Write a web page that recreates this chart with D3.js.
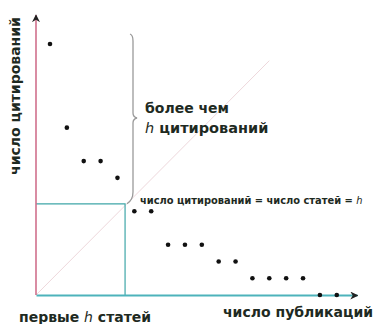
<!DOCTYPE html>
<html><head><meta charset="utf-8">
<script src="https://cdn.jsdelivr.net/npm/d3@7/dist/d3.min.js"></script>
<style>html,body{margin:0;padding:0;background:#fff}svg{display:block}</style>
</head><body><svg id="c" width="381" height="324"></svg>
<script>
const ranks = [1,2,3,4,5,6,7,8,9,10,11,12,13,14,15,16,17,18];
const citations = [15,10,8,8,7,5,5,3,3,3,2,2,1,1,1,1,0,0];
const hCross = 5.45;
const diagEnd = 14;
const labels = {
  y: "число цитирований",
  x: "число публикаций",
  first: ["первые ", "h", " статей"],
  more1: "более чем",
  more2: ["h", " цитирований"],
  eq: ["число цитирований = число статей = ", "h"]
};

const svg = d3.select("#c");
const x = d3.scaleLinear().domain([0.17, 19.2]).range([36, 357]);
const y = d3.scaleLinear().domain([0, 16.73]).range([295, 15]);
const font = "'DejaVu Sans', Verdana, sans-serif";
const ink = "#1e2a22";

const defs = svg.append("defs");
defs.append("marker").attr("id","arr").attr("viewBox","0 0 10 10").attr("refX",9).attr("refY",5)
  .attr("markerWidth",8).attr("markerHeight",8).attr("markerUnits","userSpaceOnUse").attr("orient","auto")
  .append("path").attr("d","M0,0L10,5L0,10L3,5Z").attr("fill","#222");

// diagonal
svg.append("line").attr("x1",x(0.17)).attr("y1",y(0)).attr("x2",x(diagEnd)).attr("y2",y(diagEnd))
  .attr("stroke","#eed8dc").attr("stroke-width",1);

// h box
svg.append("path")
  .attr("d",`M${x(0.17)},${y(hCross)}H${x(hCross)}V${y(0)}`)
  .attr("fill","none").attr("stroke","#3fa6a8").attr("stroke-width",1.2);

// axes
const gx = svg.append("g").attr("transform",`translate(0,${y(0)})`)
  .call(d3.axisBottom(x).tickValues([]).tickSizeOuter(0));
gx.select(".domain").attr("stroke","#4db3bb").attr("stroke-width",2).attr("marker-end","url(#arr)");
const gy = svg.append("g").attr("transform",`translate(${x(0.17)},0)`)
  .call(d3.axisLeft(y).tickValues([]).tickSizeOuter(0));
gy.select(".domain").attr("stroke","#d0708c").attr("stroke-width",1.6)
  .attr("d",`M0,${y(0)}V${y(16.73)}`).attr("marker-end","url(#arr)");

// brace
const bx = 133, bt = 36, bm = 118, bb = 200;
svg.append("path")
  .attr("d",`M${bx-3},${bt-2} Q${bx},${bt-1} ${bx},${bt+5} L${bx},${bm-5} Q${bx},${bm-1} ${bx+4},${bm} Q${bx},${bm+1} ${bx},${bm+5} L${bx},${bb-8} Q${bx},${bb} ${bx-6},${y(hCross)}`)
  .attr("fill","none").attr("stroke","#9a9a9a").attr("stroke-width",1.3);

// points
svg.append("g").selectAll("circle").data(ranks).join("circle")
  .attr("cx",(d)=>x(d)).attr("cy",(d,i)=>y(citations[i])).attr("r",2.3).attr("fill","#111");

// texts
svg.append("text").attr("transform","translate(20,96) rotate(-90)").attr("text-anchor","middle")
  .attr("font-family",font).attr("font-weight","bold").attr("font-size",14).attr("fill",ink).text(labels.y);

const t1 = svg.append("text").attr("x",19).attr("y",322).attr("font-family",font).attr("font-weight","bold")
  .attr("font-size",14).attr("fill",ink);
t1.append("tspan").text(labels.first[0]);
t1.append("tspan").attr("font-style","italic").attr("font-weight","normal").text(labels.first[1]);
t1.append("tspan").text(labels.first[2]);

svg.append("text").attr("x",223).attr("y",317).attr("font-family",font).attr("font-weight","bold")
  .attr("font-size",14).attr("fill",ink).text(labels.x);

svg.append("text").attr("x",145).attr("y",113).attr("font-family",font).attr("font-weight","bold")
  .attr("font-size",14).attr("fill",ink).text(labels.more1);
const t2 = svg.append("text").attr("x",145).attr("y",133).attr("font-family",font).attr("font-weight","bold")
  .attr("font-size",14.5).attr("fill",ink);
t2.append("tspan").attr("font-style","italic").attr("font-weight","normal").text(labels.more2[0]);
t2.append("tspan").text(labels.more2[1]);

const t3 = svg.append("text").attr("x",140).attr("y",204).attr("font-family",font).attr("font-weight","bold")
  .attr("font-size",9.9).attr("fill",ink);
t3.append("tspan").text(labels.eq[0]);
t3.append("tspan").attr("font-style","italic").attr("font-weight","normal").text(labels.eq[1]);
</script></body></html>
